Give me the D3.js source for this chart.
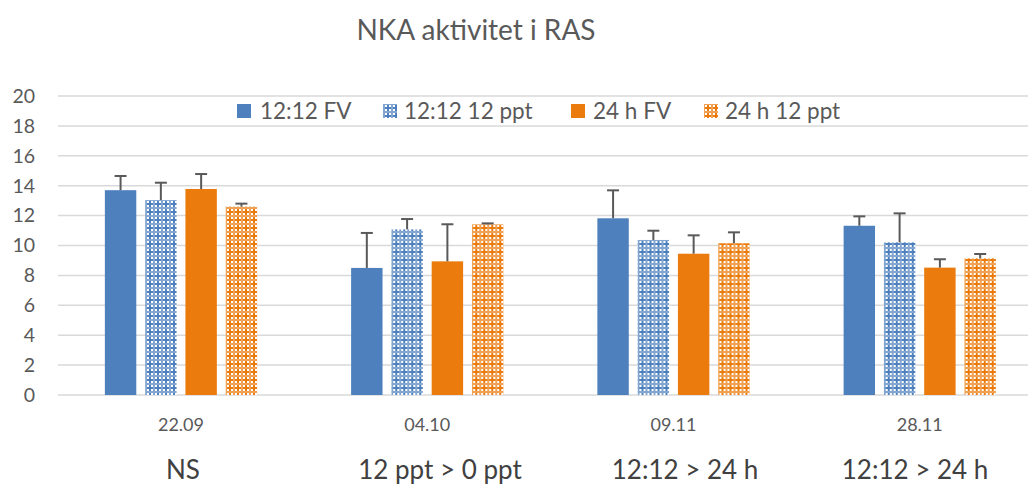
<!DOCTYPE html>
<html>
<head>
<meta charset="utf-8">
<script src="https://cdn.jsdelivr.net/npm/d3@7"></script>
<style>
  body { margin: 0; background: #fff; }
  svg { display: block; font-family: Lato, "Open Sans", sans-serif; }
</style>
</head>
<body>
<script>
// chart data
var dates = ['22.09', '04.10', '09.11', '28.11'];
var notes = ['NS', '12 ppt > 0 ppt', '12:12 > 24 h', '12:12 > 24 h'];
var seriesNames = ['12:12 FV', '12:12 12 ppt', '24 h FV', '24 h 12 ppt'];
var means = [
  [13.7, 8.5, 11.82, 11.32],   // 12:12 FV
  [13.04, 11.08, 10.37, 10.21], // 12:12 12 ppt
  [13.78, 8.94, 9.45, 8.52],   // 24 h FV
  [12.6, 11.42, 10.15, 9.14]   // 24 h 12 ppt
];
var errs = [
  [0.95, 2.34, 1.87, 0.63],
  [1.16, 0.69, 0.62, 1.94],
  [1.0, 2.48, 1.23, 0.56],
  [0.2, 0.06, 0.73, 0.29]
];
var yTicks = [0, 2, 4, 6, 8, 10, 12, 14, 16, 18, 20];

var W = 1028, H = 492;
var blue = '#4e80bd', orange = '#ea7b0c';
var colors = [blue, blue, orange, orange];
var hatched = [false, true, false, true];

var svg = d3.select('body').append('svg')
  .attr('width', W).attr('height', H);

// cross patterns for the 12 ppt series
var defs = svg.append('defs');
function makePattern(id, col) {
  var p = defs.append('pattern')
    .attr('id', id)
    .attr('patternUnits', 'userSpaceOnUse')
    .attr('width', 8).attr('height', 8);
  p.append('rect').attr('width', 8).attr('height', 8).attr('fill', '#fff');
  p.append('rect').attr('width', 8).attr('height', 8).attr('fill', col).attr('opacity', 0.7);
  [[1, 1], [5, 1], [1, 5], [5, 5]].forEach(function(c) {
    p.append('rect').attr('x', c[0]).attr('y', c[1]).attr('width', 2).attr('height', 2).attr('fill', '#fff');
  });
  p.append('rect').attr('x', 1).attr('y', 3).attr('width', 6).attr('height', 2).attr('fill', col);
  p.append('rect').attr('x', 3).attr('y', 1).attr('width', 2).attr('height', 6).attr('fill', col);
}
makePattern('patBlue', blue);
makePattern('patOrange', orange);

function fillOf(i) {
  if (!hatched[i]) return colors[i];
  return i < 2 ? 'url(#patBlue)' : 'url(#patOrange)';
}

// scales - the plot runs past the right edge like the cropped original
var x0 = d3.scaleBand().domain(dates).range([58, 1043]).paddingInner(0).paddingOuter(0);
var x1 = d3.scaleBand().domain(d3.range(4)).range([38, 208]).padding(0.22);
var y = d3.scaleLinear().domain([0, 20]).range([395, 96]);

// gridlines
svg.append('g').selectAll('line')
  .data(yTicks).join('line')
  .attr('x1', 58).attr('x2', W)
  .attr('y1', function(d){ return y(d); })
  .attr('y2', function(d){ return y(d); })
  .attr('stroke', '#d9d9d9').attr('stroke-width', 1.5);

// y axis labels
svg.append('g').selectAll('text')
  .data(yTicks).join('text')
  .attr('x', 35).attr('y', function(d){ return y(d); })
  .attr('dy', '0.35em')
  .attr('text-anchor', 'end')
  .attr('fill', '#595959')
  .attr('font-size', 19.5)
  .text(function(d){ return d; });

// bars
var groups = svg.append('g').selectAll('g')
  .data(dates).join('g')
  .attr('transform', function(d){ return 'translate(' + x0(d) + ',0)'; });

groups.each(function(d, gi) {
  var g = d3.select(this);
  for (var s = 0; s < 4; s++) {
    var v = means[s][gi], e = errs[s][gi];
    var bx = x1(s), bw = x1.bandwidth();
    g.append('rect')
      .attr('x', bx).attr('y', y(v))
      .attr('width', bw).attr('height', y(0) - y(v))
      .attr('fill', fillOf(s));
    var cx = bx + bw / 2;
    g.append('line')
      .attr('x1', cx).attr('x2', cx)
      .attr('y1', y(v)).attr('y2', y(v + e))
      .attr('stroke', '#595959').attr('stroke-width', 2);
    g.append('line')
      .attr('x1', cx - 6).attr('x2', cx + 6)
      .attr('y1', y(v + e)).attr('y2', y(v + e))
      .attr('stroke', '#595959').attr('stroke-width', 2);
  }
});

// category labels
svg.append('g').selectAll('text')
  .data(dates).join('text')
  .attr('x', function(d){ return x0(d) + 123; })
  .attr('y', 425).attr('dy', '0.35em')
  .attr('text-anchor', 'middle')
  .attr('fill', '#595959')
  .attr('font-size', 18)
  .text(function(d){ return d; });

// notes under the axis
var notePos = [183, 440, 685, 915];
svg.append('g').selectAll('text')
  .data(notes).join('text')
  .attr('x', function(d, i){ return notePos[i]; })
  .attr('y', 479)
  .attr('text-anchor', 'middle')
  .attr('fill', '#404040')
  .attr('font-size', 26)
  .text(function(d){ return d; });

// title
svg.append('text')
  .attr('x', 476).attr('y', 40)
  .attr('text-anchor', 'middle')
  .attr('fill', '#595959')
  .attr('font-size', 28)
  .text('NKA aktivitet i RAS');

// legend
var legend = svg.append('g');
legend.append('rect')
  .attr('x', 222).attr('y', 98).attr('width', 640).attr('height', 26)
  .attr('fill', '#fff');
var legSq = [237, 383, 571, 704];
var legTx = [260, 404, 593, 725];
seriesNames.forEach(function(name, i) {
  legend.append('rect')
    .attr('x', legSq[i]).attr('y', 104).attr('width', 14).attr('height', 14)
    .attr('fill', fillOf(i));
  legend.append('text')
    .attr('x', legTx[i]).attr('y', 111).attr('dy', '0.35em')
    .attr('fill', '#595959')
    .attr('font-size', 22.5)
    .text(name);
});
</script>
</body>
</html>
